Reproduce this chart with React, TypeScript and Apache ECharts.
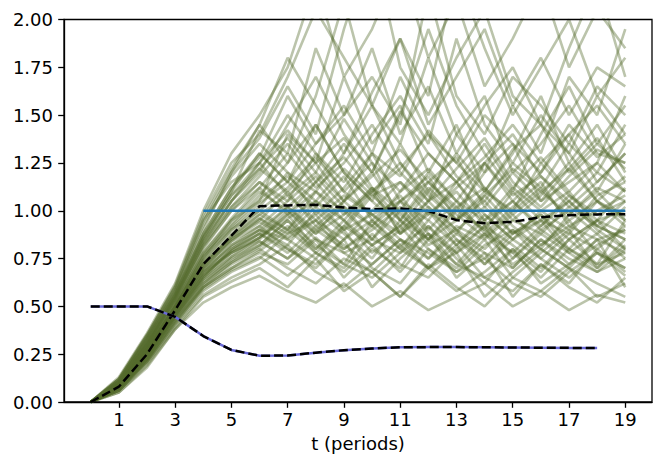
import React, { useEffect, useRef } from "react";
import * as echarts from "echarts";

const periods = [0, 1, 2, 3, 4, 5, 6, 7, 8, 9, 10, 11, 12, 13, 14, 15, 16, 17, 18, 19];
const xTickValues = [1, 3, 5, 7, 9, 11, 13, 15, 17, 19];

const meanPath = [0, 0.08, 0.25, 0.48, 0.72, 0.87, 1.024, 1.028, 1.031, 1.017, 1.008, 1.012, 0.999, 0.951, 0.935, 0.942, 0.966, 0.977, 0.981, 0.982];
const lowerPath = [0.5, 0.5, 0.5, 0.445, 0.345, 0.272, 0.242, 0.243, 0.258, 0.271, 0.28, 0.286, 0.287, 0.287, 0.286, 0.285, 0.284, 0.283, 0.283];
const targetX = [4, 19];
const targetY = [1, 1];

const samplePaths = [
  [0, 0.08, 0.26, 0.48, 0.70, 0.85, 0.95, 1.10, 0.92, 1.05, 1.20, 0.98, 0.85, 1.02, 0.90, 1.10, 0.95, 0.88, 1.05, 0.97],
  [0, 0.10, 0.30, 0.55, 0.85, 1.10, 1.30, 1.15, 1.45, 1.20, 1.05, 1.35, 1.10, 0.95, 1.25, 1.05, 1.20, 1.40, 1.15, 1.30],
  [0, 0.06, 0.22, 0.42, 0.60, 0.70, 0.78, 0.72, 0.85, 0.65, 0.80, 0.70, 0.92, 0.75, 0.62, 0.80, 0.68, 0.85, 0.72, 0.78],
  [0, 0.09, 0.28, 0.50, 0.75, 0.95, 1.05, 1.40, 1.25, 1.70, 1.35, 1.55, 1.20, 1.45, 1.10, 1.30, 1.60, 1.25, 1.45, 1.20],
  [0, 0.07, 0.24, 0.45, 0.65, 0.80, 0.90, 0.82, 1.00, 0.88, 0.75, 0.95, 0.80, 0.70, 0.85, 0.65, 0.78, 0.90, 0.70, 0.82],
  [0, 0.11, 0.33, 0.58, 0.90, 1.20, 1.45, 1.25, 1.60, 2.10, 1.55, 1.35, 1.80, 1.40, 1.20, 1.55, 1.30, 1.70, 1.50, 1.95],
  [0, 0.08, 0.25, 0.46, 0.68, 0.78, 0.85, 0.98, 0.80, 0.92, 1.10, 0.88, 1.00, 0.82, 0.95, 0.75, 0.90, 0.80, 0.95, 0.88],
  [0, 0.05, 0.19, 0.38, 0.55, 0.63, 0.70, 0.60, 0.75, 0.58, 0.68, 0.55, 0.72, 0.60, 0.50, 0.65, 0.58, 0.70, 0.55, 0.62],
  [0, 0.12, 0.35, 0.60, 0.95, 1.15, 1.25, 1.50, 1.30, 1.15, 1.40, 1.60, 1.35, 1.90, 1.45, 1.25, 1.50, 1.30, 1.10, 1.35],
  [0, 0.09, 0.27, 0.49, 0.72, 0.88, 1.00, 0.90, 1.10, 1.00, 0.85, 1.05, 0.95, 1.15, 0.98, 0.85, 1.00, 1.10, 0.92, 1.05],
  [0, 0.07, 0.23, 0.44, 0.62, 0.75, 0.82, 0.95, 0.78, 0.70, 0.88, 0.72, 0.65, 0.80, 0.92, 0.70, 0.85, 0.75, 0.68, 0.80],
  [0, 0.10, 0.31, 0.53, 0.80, 1.00, 1.15, 1.05, 1.30, 1.10, 1.25, 0.95, 1.15, 1.00, 1.20, 1.35, 1.05, 1.15, 1.25, 1.10],
  [0, 0.08, 0.26, 0.47, 0.68, 0.82, 0.92, 0.80, 0.70, 0.85, 0.60, 0.75, 0.88, 0.65, 0.78, 0.55, 0.72, 0.62, 0.80, 0.68],
  [0, 0.11, 0.32, 0.56, 0.88, 1.12, 1.28, 1.60, 1.35, 1.50, 1.85, 1.40, 1.65, 1.30, 1.55, 1.75, 1.45, 1.30, 1.60, 1.40],
  [0, 0.06, 0.21, 0.40, 0.58, 0.68, 0.75, 0.88, 0.95, 0.78, 0.85, 1.00, 0.82, 0.90, 0.72, 0.85, 0.95, 0.78, 0.88, 0.75],
  [0, 0.09, 0.29, 0.51, 0.78, 0.95, 1.10, 1.00, 0.88, 1.05, 0.92, 0.80, 1.00, 0.88, 1.08, 0.92, 0.80, 0.98, 1.10, 0.95],
  [0, 0.13, 0.36, 0.62, 1.00, 1.30, 1.50, 1.75, 2.20, 1.70, 1.95, 2.30, 1.80, 2.10, 1.65, 1.90, 2.20, 1.75, 2.05, 1.85],
  [0, 0.08, 0.25, 0.46, 0.66, 0.80, 0.88, 0.78, 0.92, 0.82, 0.72, 0.85, 0.78, 0.68, 0.82, 0.90, 0.75, 0.65, 0.78, 0.70],
  [0, 0.10, 0.30, 0.54, 0.82, 1.02, 1.18, 1.35, 1.15, 1.28, 1.10, 1.22, 1.40, 1.18, 1.05, 1.25, 1.12, 1.35, 1.20, 1.45],
  [0, 0.07, 0.22, 0.43, 0.60, 0.72, 0.80, 0.70, 0.62, 0.75, 0.68, 0.55, 0.70, 0.82, 0.65, 0.58, 0.72, 0.60, 0.52, 0.65],
  [0, 0.09, 0.28, 0.50, 0.74, 0.90, 1.02, 1.20, 0.98, 1.12, 1.30, 1.05, 1.18, 0.95, 1.10, 1.00, 1.25, 1.08, 0.95, 1.12],
  [0, 0.08, 0.24, 0.45, 0.64, 0.76, 0.86, 0.96, 1.05, 0.90, 0.98, 0.85, 0.75, 0.92, 0.85, 0.98, 0.82, 0.92, 0.85, 0.90],
  [0, 0.11, 0.34, 0.59, 0.92, 1.18, 1.35, 1.20, 1.10, 1.30, 1.55, 1.25, 1.05, 1.40, 1.60, 1.20, 1.35, 1.55, 1.30, 1.25],
  [0, 0.06, 0.20, 0.39, 0.56, 0.65, 0.72, 0.82, 0.68, 0.60, 0.72, 0.85, 0.70, 0.58, 0.68, 0.80, 0.62, 0.72, 0.85, 0.60],
  [0, 0.10, 0.31, 0.55, 0.84, 1.05, 1.20, 1.45, 1.70, 1.40, 1.20, 1.50, 1.95, 1.55, 1.30, 1.10, 1.40, 1.65, 1.35, 1.55],
  [0, 0.08, 0.27, 0.48, 0.70, 0.84, 0.96, 0.88, 1.02, 1.18, 0.95, 1.08, 0.90, 1.05, 0.88, 1.02, 1.15, 0.92, 1.00, 1.08],
  [0, 0.07, 0.23, 0.44, 0.63, 0.74, 0.84, 0.75, 0.86, 0.72, 0.95, 0.82, 0.70, 0.78, 0.55, 0.68, 0.80, 0.70, 0.62, 0.55],
  [0, 0.12, 0.34, 0.58, 0.94, 1.20, 1.38, 1.65, 1.40, 1.95, 2.40, 1.75, 1.50, 1.80, 2.05, 1.60, 1.45, 1.85, 2.20, 1.70],
  [0, 0.09, 0.27, 0.50, 0.73, 0.86, 0.98, 1.08, 0.95, 0.85, 1.00, 1.15, 1.02, 0.90, 0.80, 0.95, 0.88, 1.02, 0.92, 0.85],
  [0, 0.08, 0.26, 0.47, 0.69, 0.81, 0.90, 0.85, 0.75, 0.92, 0.82, 0.68, 0.85, 0.72, 0.88, 0.78, 0.65, 0.80, 0.72, 0.95],
  [0, 0.10, 0.32, 0.56, 0.86, 1.08, 1.22, 1.10, 1.25, 1.05, 1.18, 1.32, 1.15, 1.28, 1.02, 1.20, 1.05, 1.22, 1.38, 1.15],
  [0, 0.07, 0.21, 0.41, 0.59, 0.69, 0.76, 0.66, 0.78, 0.90, 0.70, 0.62, 0.80, 0.68, 0.75, 0.62, 0.55, 0.68, 0.78, 0.66],
  [0, 0.09, 0.29, 0.52, 0.77, 0.93, 1.08, 1.25, 1.45, 1.20, 1.05, 0.92, 1.10, 1.30, 1.12, 0.95, 1.08, 1.25, 1.05, 1.18],
  [0, 0.06, 0.22, 0.42, 0.61, 0.73, 0.81, 0.92, 0.80, 0.95, 0.78, 0.90, 1.02, 0.85, 0.72, 0.88, 0.98, 0.80, 0.70, 0.85],
  [0, 0.11, 0.33, 0.57, 0.87, 1.10, 1.42, 1.30, 1.85, 1.50, 1.70, 1.45, 2.15, 1.60, 1.40, 1.70, 1.55, 1.35, 1.65, 1.50],
  [0, 0.08, 0.25, 0.46, 0.67, 0.79, 0.88, 1.02, 0.90, 0.80, 0.92, 1.05, 0.88, 0.78, 0.92, 0.82, 0.70, 0.85, 0.95, 0.80],
  [0, 0.05, 0.18, 0.38, 0.52, 0.60, 0.66, 0.58, 0.52, 0.62, 0.50, 0.58, 0.48, 0.55, 0.62, 0.50, 0.58, 0.48, 0.56, 0.52],
  [0, 0.10, 0.30, 0.53, 0.81, 1.00, 1.12, 0.98, 1.15, 1.35, 1.12, 1.00, 1.20, 1.05, 1.25, 1.40, 1.18, 1.02, 1.15, 1.30],
  [0, 0.09, 0.28, 0.50, 0.76, 0.91, 1.04, 1.15, 1.02, 0.90, 1.08, 0.95, 1.12, 0.98, 0.86, 1.00, 1.12, 0.95, 1.05, 0.92],
  [0, 0.12, 0.35, 0.61, 0.98, 1.25, 1.40, 1.70, 2.05, 1.80, 1.55, 1.90, 1.60, 2.25, 1.85, 1.50, 1.75, 2.00, 1.60, 1.80],
  [0, 0.08, 0.26, 0.49, 0.71, 0.87, 0.98, 0.90, 1.05, 0.95, 1.12, 0.88, 0.98, 1.10, 0.92, 1.05, 0.90, 1.00, 0.88, 1.02],
  [0, 0.07, 0.24, 0.45, 0.66, 0.78, 0.86, 1.00, 0.85, 0.78, 0.68, 0.82, 0.92, 0.78, 0.88, 0.72, 0.82, 0.95, 0.78, 0.70],
  [0, 0.10, 0.30, 0.54, 0.83, 1.05, 1.25, 1.08, 1.20, 1.48, 1.25, 1.10, 1.30, 1.15, 1.35, 1.12, 1.28, 1.10, 1.25, 1.60],
  [0, 0.09, 0.27, 0.49, 0.72, 0.85, 0.94, 0.86, 0.98, 0.80, 0.90, 1.02, 0.85, 0.95, 1.05, 0.88, 0.98, 0.85, 0.95, 1.00],
  [0, 0.09, 0.28, 0.51, 0.76, 0.92, 1.06, 1.18, 1.05, 1.22, 1.08, 1.15, 0.98, 1.12, 1.25, 1.08, 1.18, 1.05, 1.20, 1.10],
  [0, 0.08, 0.26, 0.48, 0.70, 0.84, 0.92, 1.05, 1.18, 1.02, 0.92, 1.10, 1.22, 1.05, 0.95, 1.12, 1.00, 0.90, 1.08, 1.15],
  [0, 0.07, 0.23, 0.44, 0.64, 0.76, 0.84, 0.75, 0.90, 1.02, 0.85, 0.78, 0.95, 0.82, 0.98, 0.85, 0.75, 0.88, 0.80, 0.92],
  [0, 0.10, 0.31, 0.55, 0.84, 1.05, 1.22, 1.38, 1.20, 1.05, 1.30, 1.18, 1.42, 1.25, 1.10, 1.32, 1.45, 1.20, 1.35, 1.22],
  [0, 0.11, 0.33, 0.57, 0.88, 1.12, 1.30, 1.15, 1.35, 1.55, 1.30, 1.70, 1.40, 1.25, 1.50, 1.35, 1.20, 1.45, 1.28, 1.40],
  [0, 0.08, 0.25, 0.47, 0.68, 0.82, 0.90, 1.02, 0.88, 0.98, 1.12, 0.95, 0.85, 1.00, 0.90, 0.78, 0.92, 1.05, 0.90, 0.80],
  [0, 0.06, 0.21, 0.41, 0.60, 0.70, 0.79, 0.90, 0.78, 0.68, 0.82, 0.92, 0.75, 0.88, 0.78, 0.70, 0.85, 0.72, 0.82, 0.90],
  [0, 0.09, 0.29, 0.52, 0.78, 0.96, 1.12, 1.30, 1.12, 1.25, 1.45, 1.20, 1.05, 1.22, 1.38, 1.15, 1.02, 1.18, 1.32, 1.25],
  [0, 0.12, 0.35, 0.60, 0.96, 1.22, 1.45, 1.80, 1.55, 1.30, 1.62, 1.90, 1.45, 1.70, 1.95, 1.55, 1.80, 1.50, 1.75, 1.65],
  [0, 0.08, 0.27, 0.49, 0.72, 0.86, 0.96, 0.85, 0.95, 1.08, 0.98, 0.88, 1.05, 1.15, 0.95, 1.05, 0.92, 1.08, 0.98, 1.05],
  [0, 0.07, 0.22, 0.43, 0.62, 0.73, 0.82, 0.95, 0.82, 0.72, 0.65, 0.78, 0.88, 0.72, 0.65, 0.75, 0.88, 0.78, 0.68, 0.75],
  [0, 0.10, 0.30, 0.54, 0.82, 1.02, 1.15, 1.02, 1.15, 0.98, 1.10, 1.25, 1.08, 0.95, 1.08, 1.22, 1.10, 0.98, 1.12, 1.05],
  [0, 0.09, 0.28, 0.50, 0.74, 0.90, 1.00, 1.12, 1.28, 1.10, 0.98, 1.05, 1.15, 1.02, 1.12, 0.98, 1.10, 1.22, 1.05, 0.95],
  [0, 0.08, 0.24, 0.46, 0.66, 0.79, 0.88, 0.80, 0.72, 0.85, 0.95, 0.80, 0.70, 0.85, 0.75, 0.90, 0.80, 0.70, 0.85, 0.78],
  [0, 0.11, 0.32, 0.56, 0.86, 1.08, 1.25, 1.42, 1.25, 1.38, 1.20, 1.52, 1.30, 1.15, 1.28, 1.45, 1.25, 1.40, 1.55, 1.35],
  [0, 0.07, 0.24, 0.45, 0.65, 0.78, 0.86, 0.98, 1.10, 0.95, 0.82, 0.92, 1.05, 0.90, 1.02, 0.88, 0.95, 1.05, 0.92, 0.85],
];

const FONT = "DejaVu Sans";
const FS = 18;

export default function App() {
  const ref = useRef<HTMLDivElement>(null);
  useEffect(() => {
    document.body.style.margin = "0";
    if (!ref.current) return;
    const chart = echarts.init(ref.current, null, { renderer: "svg" });
    const pairs = (ys: number[], xs: number[] = periods) => ys.map((y, i) => [xs[i], y]);
    const series: any[] = samplePaths.map((p) => ({
      type: "line",
      data: pairs(p),
      showSymbol: false,
      silent: true,
      clip: true,
      z: 1,
      lineStyle: { color: "#566c2c", width: 2.6, opacity: 0.4 },
    }));
    series.push({
      type: "line",
      data: pairs(meanPath),
      showSymbol: false,
      silent: true,
      z: 3,
      lineStyle: { color: "#000", width: 2.5, type: [9, 4] },
    });
    series.push({
      type: "line",
      data: pairs(lowerPath),
      showSymbol: false,
      silent: true,
      z: 3,
      lineStyle: { color: "#6a6ad8", width: 2.5 },
    });
    series.push({
      type: "line",
      data: pairs(lowerPath),
      showSymbol: false,
      silent: true,
      z: 4,
      lineStyle: { color: "#000", width: 2.5, type: [9, 4] },
    });
    series.push({
      type: "line",
      data: pairs(targetY, targetX),
      showSymbol: false,
      silent: true,
      z: 5,
      lineStyle: { color: "#1f77b4", width: 2.5 },
    });
    chart.setOption({
      animation: false,
      grid: {
        left: 64,
        right: 13,
        top: 19.5,
        bottom: 66,
        show: true,
        borderColor: "#000",
        borderWidth: 1.3,
        backgroundColor: "transparent",
        z: 10,
      },
      xAxis: {
        type: "value",
        min: -0.95,
        max: 19.95,
        splitLine: { show: false },
        axisLine: { show: true, onZero: false, lineStyle: { color: "#000", width: 1.3 } },
        axisTick: { show: true, customValues: xTickValues, length: 5.8, lineStyle: { color: "#000", width: 1.3 } },
        axisLabel: { customValues: xTickValues, fontSize: FS, fontFamily: FONT, color: "#000", margin: 8 },
        name: "t (periods)",
        nameLocation: "middle",
        nameGap: 32,
        nameTextStyle: { fontSize: FS, fontFamily: FONT, color: "#000" },
      },
      yAxis: {
        type: "value",
        min: 0,
        max: 2,
        interval: 0.25,
        splitLine: { show: false },
        axisLine: { show: true, onZero: false, lineStyle: { color: "#000", width: 1.3 } },
        axisTick: { show: true, length: 5.8, lineStyle: { color: "#000", width: 1.3 } },
        axisLabel: {
          fontSize: FS,
          fontFamily: FONT,
          color: "#000",
          margin: 11,
          formatter: (v: number) => v.toFixed(2),
        },
      },
      series,
    });
    return () => chart.dispose();
  }, []);
  return <div ref={ref} style={{ width: 665, height: 468 }} />;
}
